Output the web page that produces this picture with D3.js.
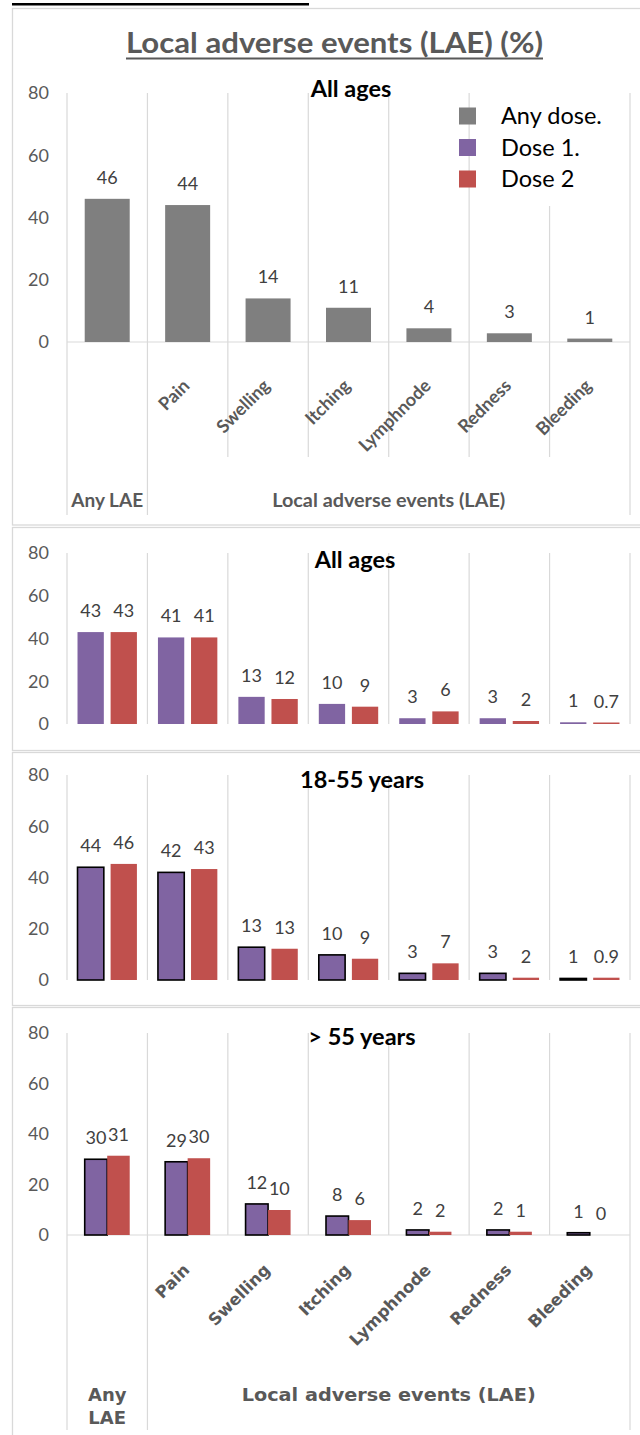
<!DOCTYPE html>
<html><head><meta charset="utf-8">
<script src="https://cdn.jsdelivr.net/npm/d3@7"></script>
<style>body{margin:0;background:#fff}svg{display:block}</style>
</head><body>
<svg id="c" width="640" height="1435"></svg>
<script>
// ---------- data ----------
const categories = ["Any LAE","Pain","Swelling","Itching","Lymphnode","Redness","Bleeding"];
const seriesNames = ["Any dose.","Dose 1.","Dose 2"];
const yTicks = [0,20,40,60,80];
const panelTitles = ["All ages","All ages","18-55 years","> 55 years"];

const anyDoseAll = [46, 44, 14, 11, 4.4, 2.8, 1.1];
const anyDoseAllLabels = ["46","44","14","11","4","3","1"];

const dose1All = [43, 40.5, 12.7, 9.4, 2.7, 2.7, 0.8];
const dose2All = [43, 40.5, 11.7, 8.1, 5.9, 1.4, 0.7];
const dose1AllLabels = ["43","41","13","10","3","3","1"];
const dose2AllLabels = ["43","41","12","9","6","2","0.7"];

const dose1Young = [44, 42, 12.8, 9.8, 2.6, 2.6, 0.6];
const dose2Young = [45.3, 43.3, 12.2, 8.3, 6.5, 0.9, 0.9];
const dose1YoungLabels = ["44","42","13","10","3","3","1"];
const dose2YoungLabels = ["46","43","13","9","7","2","0.9"];

const dose1Old = [30, 29, 12.3, 7.5, 2, 2, 0.9];
const dose2Old = [31.4, 30.4, 9.9, 5.9, 1.3, 1.3, 0];
const dose1OldLabels = ["30","29","12","8","2","2","1"];
const dose2OldLabels = ["31","30","10","6","2","1","0"];

// ---------- style ----------
const GRAY = "#7f7f7f", PURPLE = "#8064a2", RED = "#c0504d";
const GRID = "#d9d9d9";
const FONT = "Lato, 'Open Sans', sans-serif";
const colors = [GRAY, PURPLE, RED];

const svg = d3.select("#c");

// header remnant line
svg.append("rect").attr("x",12).attr("y",3).attr("width",297).attr("height",2.5).attr("fill","#000");

// panel frames
const frames = [[8.5,525],[527.5,750.5],[752.5,1005.5],[1007.5,1445]];
frames.forEach(f=>{
  svg.append("rect").attr("x",12.5).attr("y",f[0]).attr("width",640).attr("height",f[1]-f[0])
    .attr("fill","none").attr("stroke",GRID).attr("stroke-width",1.3);
});

// title
svg.append("text").attr("x",126).attr("y",53)
  .attr("font-family",FONT).attr("font-weight","bold").attr("font-size",28)
  .attr("fill","#595959").attr("textLength",417).attr("lengthAdjust","spacingAndGlyphs")
  .text("Local adverse events (LAE) (%)");
svg.append("rect").attr("x",126).attr("y",57.5).attr("width",417).attr("height",2).attr("fill","#595959");

const x = d3.scaleBand().domain(categories).range([67,630]).paddingInner(0).paddingOuter(0);
const bounds = categories.map(c=>x(c)).concat([x.range()[1]]);

function drawPanel(cfg){
  const g = svg.append("g");
  const y = d3.scaleLinear().domain([0,80]).range([cfg.y0, cfg.y80]);
  bounds.forEach((bx,i)=>{
    const outer = (i===0||i===1||i===bounds.length-1);
    const bottom = cfg.ext ? (outer ? cfg.ext[0] : cfg.ext[1]) : cfg.y0;
    g.append("line").attr("x1",bx).attr("x2",bx).attr("y1",cfg.y80).attr("y2",bottom)
      .attr("stroke",GRID).attr("stroke-width",1.2);
  });
  if(cfg.baseline){
    g.append("line").attr("x1",x.range()[0]).attr("x2",x.range()[1]).attr("y1",y(0)).attr("y2",y(0))
      .attr("stroke",GRID).attr("stroke-width",1.2);
  }
  const ax = g.append("g").attr("transform","translate(52,0)")
    .call(d3.axisLeft(y).tickValues(yTicks).tickSize(0).tickPadding(3));
  ax.select(".domain").remove();
  ax.selectAll("text").attr("font-family",FONT).attr("font-size",18).attr("fill","#595959");
  g.append("text").attr("x",cfg.tx).attr("y",cfg.ty).attr("text-anchor","middle")
    .attr("font-family",FONT).attr("font-weight","bold").attr("font-size",23.5).attr("fill","#000")
    .text(cfg.title);
  const n = cfg.series.length;
  const sub = d3.scaleBand().domain(d3.range(n))
    .range([-cfg.span/2, cfg.span/2]).paddingInner(cfg.pad).paddingOuter(0);
  cfg.series.forEach((s,si)=>{
    const bw = sub.bandwidth();
    const gs = g.append("g");
    gs.selectAll("rect").data(s.values).join("rect")
      .attr("x",(d,i)=>x(categories[i])+x.bandwidth()/2+sub(si))
      .attr("y",d=>y(d)).attr("width",bw).attr("height",d=>y(0)-y(d))
      .attr("fill",s.color)
      .attr("stroke",s.outline ? "#000" : "none").attr("stroke-width",s.outline?1.6:0);
    gs.selectAll("text").data(s.labels).join("text")
      .attr("x",(d,i)=>x(categories[i])+x.bandwidth()/2+sub(si)+bw/2)
      .attr("y",(d,i)=>y(s.values[i])-15)
      .attr("text-anchor","middle").attr("font-family",FONT).attr("font-size",18).attr("fill","#404040")
      .text(d=>d);
  });
  return y;
}

drawPanel({y0:342,y80:93,ext:[515,457],baseline:true,title:panelTitles[0],tx:351,ty:97,
  span:45,pad:0,series:[{values:anyDoseAll,labels:anyDoseAllLabels,color:GRAY}]});
drawPanel({y0:724,y80:553,title:panelTitles[1],tx:355,ty:568,span:59.4,pad:0.205,
  series:[{values:dose1All,labels:dose1AllLabels,color:PURPLE},{values:dose2All,labels:dose2AllLabels,color:RED}]});
drawPanel({y0:980,y80:775,title:panelTitles[2],tx:362,ty:788,span:59.4,pad:0.205,
  series:[{values:dose1Young,labels:dose1YoungLabels,color:PURPLE,outline:true},{values:dose2Young,labels:dose2YoungLabels,color:RED}]});
drawPanel({y0:1235,y80:1033,ext:[1430,1235],baseline:true,title:panelTitles[3],tx:362,ty:1045,span:45,pad:0,
  series:[{values:dose1Old,labels:dose1OldLabels,color:PURPLE,outline:true},{values:dose2Old,labels:dose2OldLabels,color:RED}]});

// legend
svg.append("rect").attr("x",478).attr("y",88).attr("width",150).attr("height",118).attr("fill","#fff");
const legY = [116,147.5,179];
seriesNames.forEach((s,i)=>{
  svg.append("rect").attr("x",459).attr("y",legY[i]-8.5).attr("width",17).attr("height",17).attr("fill",colors[i]);
  svg.append("text").attr("x",501).attr("y",legY[i]+8).attr("font-family",FONT).attr("font-size",23.5)
    .attr("fill","#000").text(s);
});

// x category labels panel 1
categories.slice(1).forEach(c=>{
  const cx = x(c)+x.bandwidth()/2+3, cy = 387;
  svg.append("text").attr("transform",`translate(${cx},${cy}) rotate(-45)`).attr("text-anchor","end")
    .attr("font-family",FONT).attr("font-weight","bold").attr("font-size",18).attr("fill","#595959").text(c);
});
svg.append("text").attr("x",x(categories[0])+x.bandwidth()/2).attr("y",507).attr("text-anchor","middle")
  .attr("font-family",FONT).attr("font-weight","bold").attr("font-size",19).attr("fill","#595959").text(categories[0]);
svg.append("text").attr("x",(x(categories[1])+x.range()[1])/2).attr("y",507).attr("text-anchor","middle")
  .attr("font-family",FONT).attr("font-weight","bold").attr("font-size",18).attr("fill","#595959")
  .attr("textLength",233).attr("lengthAdjust","spacingAndGlyphs").text("Local adverse events (LAE)");

// x category labels panel 4
const F2 = "'DejaVu Sans', Verdana, sans-serif";
categories.slice(1).forEach(c=>{
  const cx = x(c)+x.bandwidth()/2+3, cy = 1271;
  svg.append("text").attr("transform",`translate(${cx},${cy}) rotate(-45)`).attr("text-anchor","end")
    .attr("font-family",F2).attr("font-weight","bold").attr("font-size",16.5).attr("fill","#595959").text(c);
});
const c0 = x(categories[0])+x.bandwidth()/2;
svg.append("text").attr("x",c0).attr("y",1401).attr("text-anchor","middle")
  .attr("font-family",F2).attr("font-weight","bold").attr("font-size",18).attr("fill","#595959").text("Any");
svg.append("text").attr("x",c0).attr("y",1424).attr("text-anchor","middle")
  .attr("font-family",F2).attr("font-weight","bold").attr("font-size",18).attr("fill","#595959").text("LAE");
svg.append("text").attr("x",(x(categories[1])+x.range()[1])/2).attr("y",1401).attr("text-anchor","middle")
  .attr("font-family",F2).attr("font-weight","bold").attr("font-size",18).attr("fill","#595959")
  .attr("textLength",294).attr("lengthAdjust","spacingAndGlyphs").text("Local adverse events (LAE)");
</script>
</body></html>
